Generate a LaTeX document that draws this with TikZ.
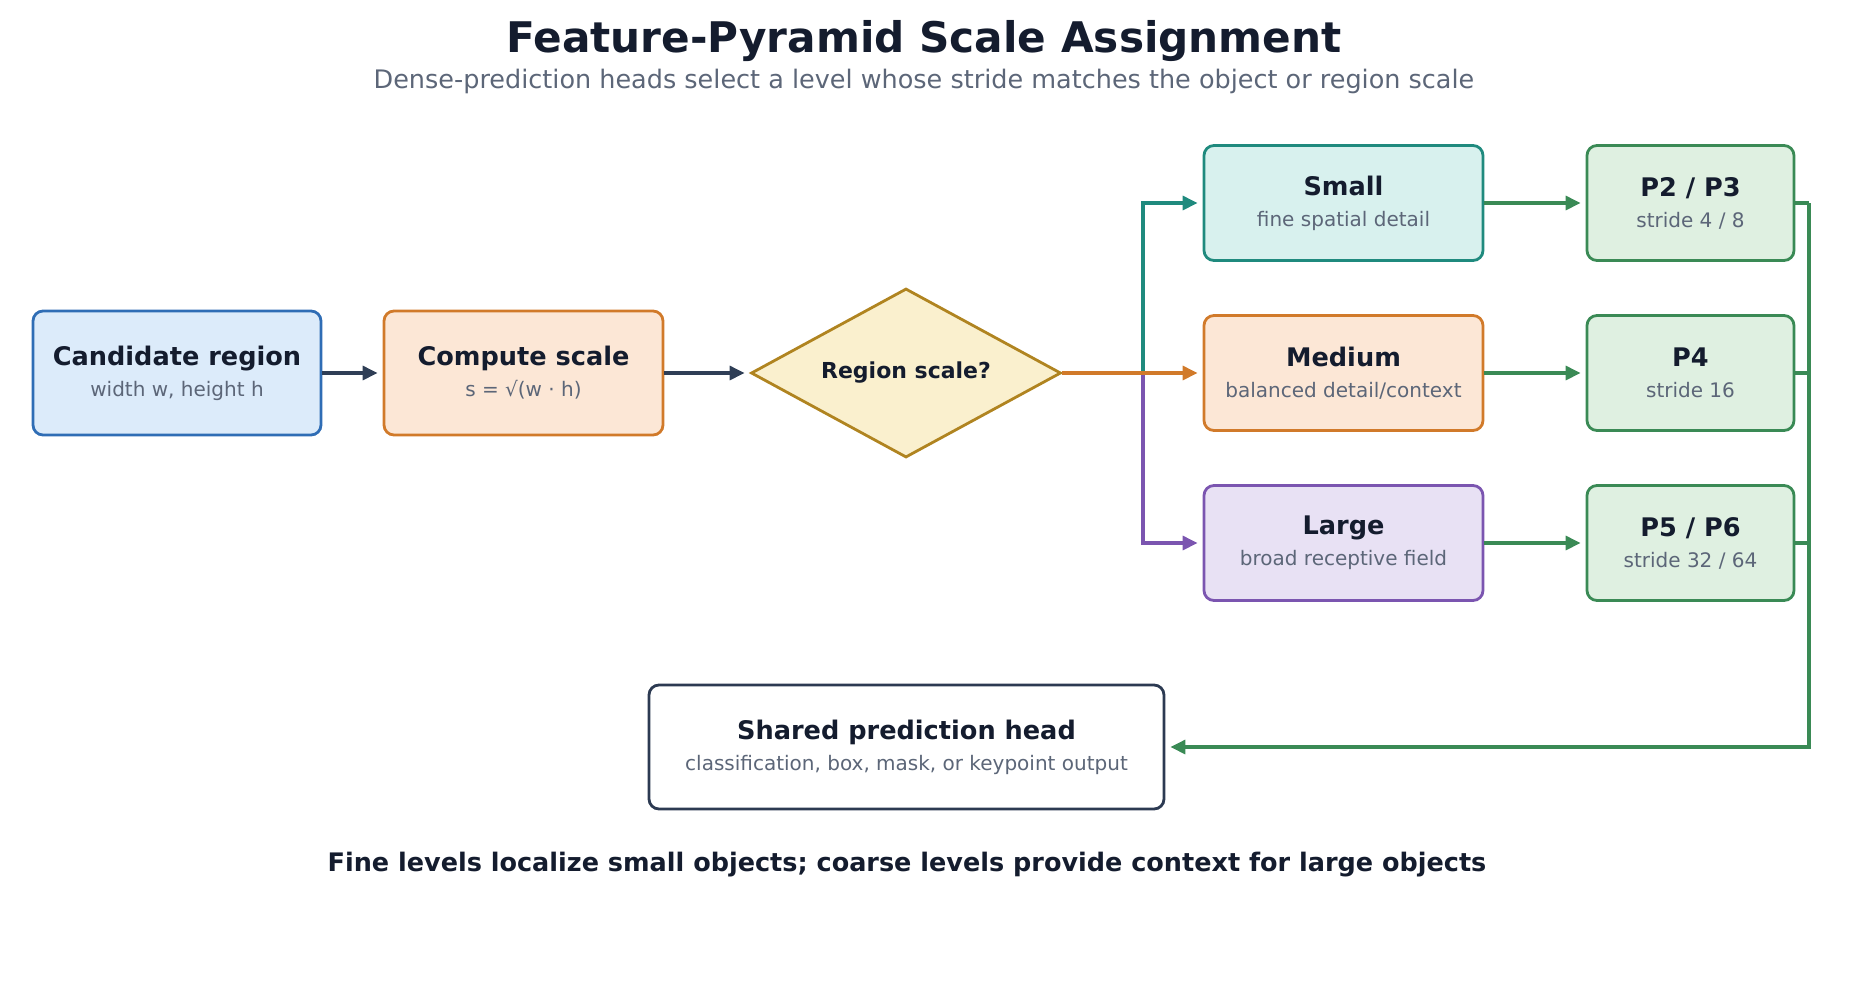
\documentclass[tikz,border=0pt]{standalone}
\usepackage{fontspec}
\setmainfont{DejaVu Sans}
\usetikzlibrary{shapes.geometric,arrows.meta}
\definecolor{ink}{HTML}{141C2E}
\definecolor{muted}{HTML}{5C6678}
\definecolor{arrowdark}{HTML}{2F3E56}
\definecolor{bluefill}{HTML}{DCEBFA}
\definecolor{bluedraw}{HTML}{2F6DB5}
\definecolor{orfill}{HTML}{FCE7D6}
\definecolor{ordraw}{HTML}{D17A2A}
\definecolor{yefill}{HTML}{FAF0CE}
\definecolor{yedraw}{HTML}{B08420}
\definecolor{tefill}{HTML}{D8F1EE}
\definecolor{tedraw}{HTML}{1F8A7E}
\definecolor{pufill}{HTML}{E8E1F4}
\definecolor{pudraw}{HTML}{7B55B0}
\definecolor{grfill}{HTML}{DFF0E1}
\definecolor{grdraw}{HTML}{3A8A55}
\definecolor{headdraw}{HTML}{2C3A52}
\newcommand{\boxtext}[2]{{\fontsize{12.8}{15}\selectfont\bfseries\color{ink}#1}\\[3.5pt]{\fontsize{10}{12}\selectfont\color{muted}#2}}
\tikzset{
  card/.style={rounded corners=5pt, line width=1.4pt, align=center, inner sep=0pt},
  conn/.style={line width=1.6pt, -{Triangle[length=7.5pt,width=7pt]}, shorten >=2.5pt},
  plain/.style={line width=1.6pt},
}
\begin{document}
\begin{tikzpicture}[x=0.5pt,y=-0.5pt]
\useasboundingbox (0,0) rectangle (1849,981);
% title
\node (title) at (924,41.5) {\fontsize{21.1}{25}\selectfont\bfseries\color{ink}Feature-Pyramid Scale Assignment};
\node (subtitle) at (924,81.5) {\fontsize{12.75}{15}\selectfont\color{muted}Dense-prediction heads select a level whose stride matches the object or region scale};
% nodes
\node[card, draw=bluedraw, fill=bluefill, minimum width=144pt, minimum height=62pt] (cand) at (177,373) {\boxtext{Candidate region}{width w, height h}};
\node[card, draw=ordraw, fill=orfill, minimum width=139.5pt, minimum height=62pt] (comp) at (523.5,373) {\boxtext{Compute scale}{s = √(w · h)}};
\node[diamond, draw=yedraw, fill=yefill, line width=1.4pt, inner sep=0pt, minimum width=155pt, minimum height=84.5pt, aspect=1.83] (dec) at (906,373) {\raisebox{-1pt}{\fontsize{11}{13}\selectfont\bfseries\color{ink}Region scale?}};
\node[card, draw=tedraw, fill=tefill, minimum width=139.5pt, minimum height=57.5pt] (small) at (1343.5,203) {\boxtext{Small}{fine spatial detail}};
\node[card, draw=ordraw, fill=orfill, minimum width=139.5pt, minimum height=57.5pt] (medium) at (1343.5,373) {\boxtext{Medium}{balanced detail/context}};
\node[card, draw=pudraw, fill=pufill, minimum width=139.5pt, minimum height=57.5pt] (large) at (1343.5,543) {\boxtext{Large}{broad receptive field}};
\node[card, draw=grdraw, fill=grfill, minimum width=103.5pt, minimum height=57.5pt] (p23) at (1690.5,203) {\boxtext{P2 / P3}{stride 4 / 8}};
\node[card, draw=grdraw, fill=grfill, minimum width=103.5pt, minimum height=57.5pt] (p4) at (1690.5,373) {\boxtext{P4}{stride 16}};
\node[card, draw=grdraw, fill=grfill, minimum width=103.5pt, minimum height=57.5pt] (p56) at (1690.5,543) {\boxtext{P5 / P6}{stride 32 / 64}};
\node[card, draw=headdraw, fill=white, minimum width=257.5pt, minimum height=62pt] (head) at (906.5,747) {\boxtext{Shared prediction head}{classification, box, mask, or keypoint output}};
\node (foot) at (907,864.5) {\fontsize{12.75}{15}\selectfont\bfseries\color{ink}Fine levels localize small objects; coarse levels provide context for large objects};
% coordinates
\coordinate (br) at (1143,373);
\coordinate (brtop) at (1143,203);
\coordinate (brbot) at (1143,543);
\coordinate (bus1) at (1809,203);
\coordinate (bus2) at (1809,373);
\coordinate (bus3) at (1809,543);
\coordinate (busend) at (1809,747);
% connectors
\draw[conn, arrowdark] (cand) -- (comp);
\draw[conn, arrowdark] (comp) -- (dec);
\draw[conn, tedraw] (br) -- (brtop) -- (small);
\draw[conn, pudraw] (br) -- (brbot) -- (large);
\draw[conn, ordraw] (dec.east) -- (medium);
\draw[conn, grdraw] (small) -- (p23);
\draw[conn, grdraw] (medium) -- (p4);
\draw[conn, grdraw] (large) -- (p56);
\draw[plain, grdraw] (p23.east) -- (bus1);
\draw[plain, grdraw] (p4.east) -- (bus2);
\draw[plain, grdraw] (p56.east) -- (bus3);
\draw[conn, grdraw] (bus1) -- (busend) -- (head);
\end{tikzpicture}
\end{document}
